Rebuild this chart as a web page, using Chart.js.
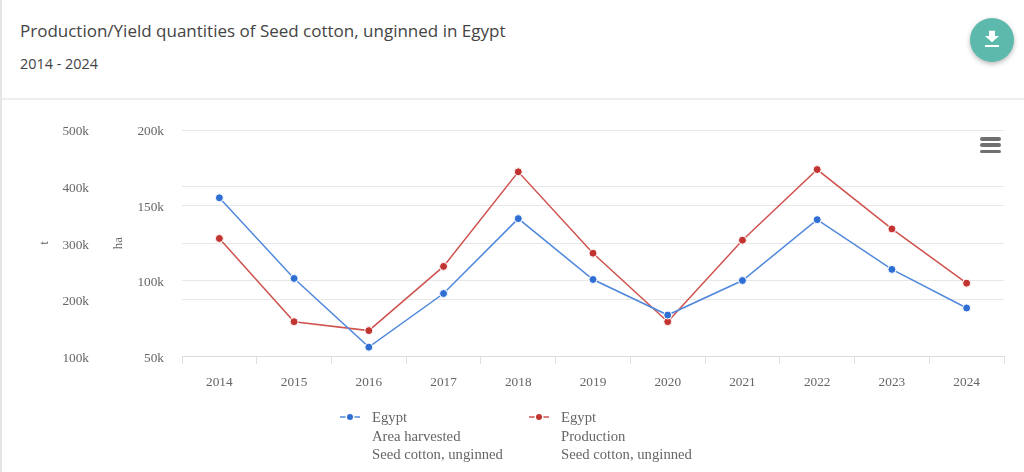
<!DOCTYPE html>
<html><head><meta charset="utf-8">
<style>
html,body{margin:0;padding:0;background:#fff;width:1024px;height:472px;overflow:hidden}
#edge{position:absolute;left:0;top:0;width:2px;height:472px;background:#e6e6e6}
#title{position:absolute;left:20px;top:19px;font:17px/24px "Open Sans",sans-serif;color:#444;white-space:nowrap}
#sub{position:absolute;left:20px;top:53px;font:14.4px/21px "Open Sans",sans-serif;color:#444;white-space:nowrap}
#rule{position:absolute;left:2px;right:0;top:98px;height:2px;background:#eee}
#btn{position:absolute;left:970px;top:18px;width:44px;height:44px;border-radius:50%;background:#5cb9ab;box-shadow:0 2px 5px rgba(0,0,0,.28)}
#btn svg{position:absolute;left:12px;top:11px}
#menu{position:absolute;left:980px;top:137px;width:21px}
#menu i{display:block;height:3.6px;border-radius:2px;background:#707070;margin-bottom:2.7px}
#wrap{position:absolute;left:0;top:100px;width:1024px;height:372px}
.lg{position:absolute;top:408px;font:14.7px/18.67px "Liberation Serif",serif;color:#666;white-space:nowrap}
.lg canvas{position:absolute;left:-32px;top:4px}
</style></head><body>
<div id="edge"></div>
<div id="title">Production/Yield quantities of Seed cotton, unginned in Egypt</div>
<div id="sub">2014 - 2024</div>
<div id="rule"></div>
<div id="wrap"><canvas id="c" width="1024" height="372"></canvas></div>
<div id="menu"><i></i><i></i><i></i></div>
<div id="btn"><svg width="20" height="20" viewBox="0 0 20 20"><path d="M7 2h6v6h4l-7 7-7-7h4z" fill="#fff" transform="scale(1,.88)"/><rect x="3" y="16" width="14" height="2" fill="#fff"/></svg></div>
<div class="lg" id="lg0" style="left:372px"></div>
<div class="lg" id="lg1" style="left:561px"></div>
<script src="https://cdn.jsdelivr.net/npm/chart.js@4/dist/chart.umd.js"></script>
<script>
const years = ['2014','2015','2016','2017','2018','2019','2020','2021','2022','2023','2024'];
const areaHarvested = [155000,101500,55900,91500,141200,100800,77200,100100,140500,107500,81900];
const production = [308000,160800,145000,258600,426000,282000,160800,305000,430000,325000,229000];
const areaLabel = ['Egypt','Area harvested','Seed cotton, unginned'];
const productionLabel = ['Egypt','Production','Seed cotton, unginned'];
const BLUE='#2f6fd4', BLUEL='#5088dc', RED='#c23430', REDL='#cf524e', TXT='#666666';
const FONT='"Liberation Serif", serif';

function legend(id, lines, line, dot){
  const el=document.getElementById(id);
  const c=document.createElement('canvas');c.width=20;c.height=10;
  const x=c.getContext('2d');
  x.strokeStyle=line;x.lineWidth=1.5;x.beginPath();x.moveTo(0,5);x.lineTo(20,5);x.stroke();
  x.fillStyle='#fff';x.beginPath();x.arc(10,5,4.5,0,7);x.fill();
  x.fillStyle=dot;x.beginPath();x.arc(10,5,3,0,7);x.fill();
  el.appendChild(c);
  lines.forEach(t=>{const d=document.createElement('div');d.textContent=t;el.appendChild(d);});
}
legend('lg0',areaLabel,BLUEL,BLUE);
legend('lg1',productionLabel,REDL,RED);

const fmt=v=>(v/1000)+'k';
function fitY(s){
  s.width=74;
  if(!s._nudged){
    s._nudged=true;
    const draw=s.drawLabels;
    s.drawLabels=function(a){const c=this.ctx;c.save();c.translate(0,2);draw.call(this,a);c.restore();};
  }
}
new Chart(document.getElementById('c'),{
  type:'line',
  data:{labels:years,datasets:[
    {label:'Area harvested',data:areaHarvested,yAxisID:'ha',borderColor:BLUEL,backgroundColor:BLUE,pointBackgroundColor:BLUE,pointBorderColor:'#fff',pointBorderWidth:1,pointRadius:4,borderWidth:1.5,tension:0,order:1},
    {label:'Production',data:production,yAxisID:'t',borderColor:REDL,backgroundColor:RED,pointBackgroundColor:RED,pointBorderColor:'#fff',pointBorderWidth:1,pointRadius:4,borderWidth:1.5,tension:0,order:2}
  ]},
  options:{
    responsive:false,animation:false,
    layout:{padding:{left:34,right:20,top:30,bottom:72}},
    plugins:{tooltip:{enabled:false},legend:{display:false}},
    scales:{
      x:{
        offset:true,
        grid:{offset:true,drawOnChartArea:false,drawTicks:true,tickLength:8,color:'#e0e0e0'},
        border:{color:'#dcdcdc',width:1},
        ticks:{font:{family:FONT,size:13.3},color:TXT,padding:10,maxRotation:0}
      },
      ha:{
        position:'left',min:50000,max:200000,
        afterFit:fitY,
        title:{display:true,text:'ha',font:{family:FONT,size:13},color:TXT,padding:{top:3,bottom:0}},
        grid:{color:'#e8e8e8',drawTicks:false},border:{display:false},
        ticks:{stepSize:50000,callback:fmt,font:{family:FONT,size:13.3},color:TXT,padding:18}
      },
      t:{
        position:'left',min:100000,max:500000,
        afterFit:fitY,
        title:{display:true,text:'t',font:{family:FONT,size:13},color:TXT,padding:{top:3,bottom:0}},
        grid:{color:'#e8e8e8',drawTicks:false},border:{display:false},
        ticks:{stepSize:100000,callback:fmt,font:{family:FONT,size:13.3},color:TXT,padding:19}
      }
    }
  }
});
</script>
</body></html>
